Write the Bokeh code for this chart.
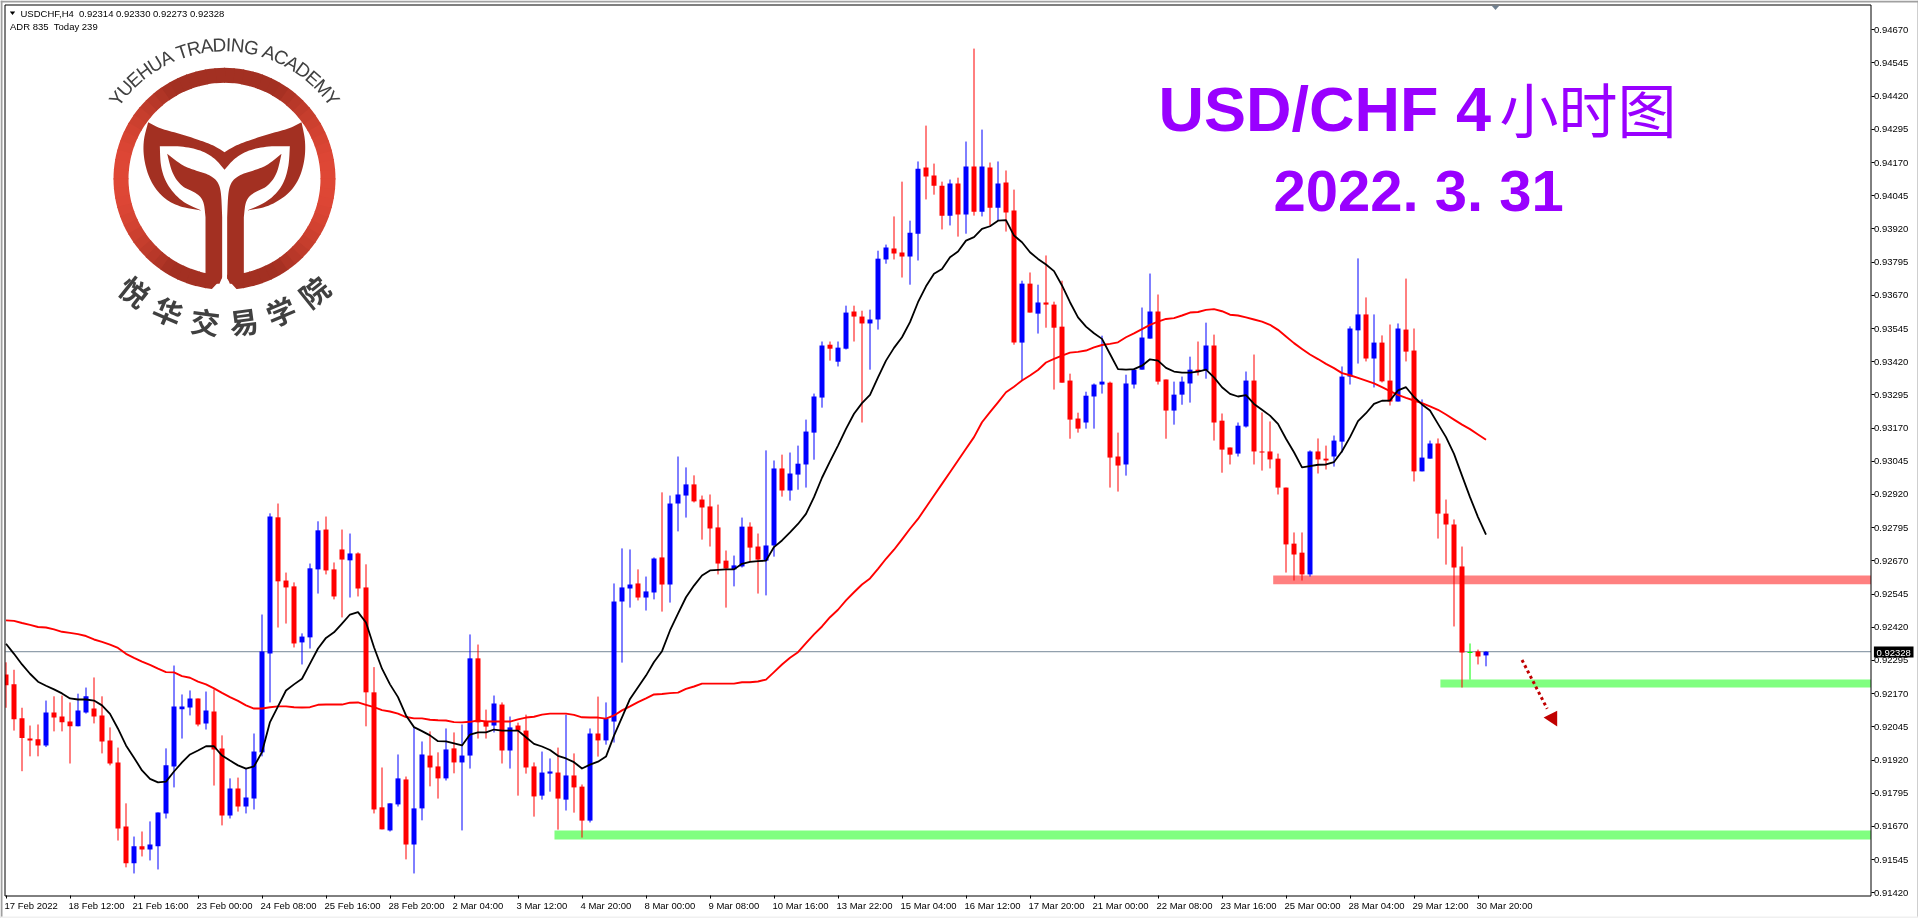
import math
import numpy as np
from bokeh.plotting import figure
from bokeh.embed import file_html
from bokeh.resources import INLINE
from bokeh.core.properties import value
from bokeh.models import Range1d, FixedTicker, Label, LinearAxis, NumeralTickFormatter, ColumnDataSource

# Prices in points (1 point = 0.00001)
opens = [
 92242,92205,92077,92001,91998,91975,92099,92084,92065,92047,
 92099,92114,92088,91994,91911,91670,91531,91595,91583,91595,
 91719,91896,92111,92118,92152,92058,92103,91964,91711,91813,
 91745,91775,91949,92321,92834,92596,92574,92363,92382,92638,
 92788,92638,92713,92672,92698,92570,92175,91742,91655,91753,
 91847,91602,91738,91937,91896,91851,91964,91911,91937,92303,
 92065,92050,92129,91956,92050,92031,91896,91786,91869,91873,
 91771,91862,91820,91692,92020,91994,92065,92517,92566,92585,
 92532,92551,92683,92581,92886,92916,92958,92901,92875,92796,
 92671,92638,92649,92799,92724,92671,92728,93018,92935,92995,
 93033,93153,93285,93484,93420,93469,93609,93590,93564,93579,
 93805,93846,93831,93816,93902,94151,94121,94083,93970,94091,
 93974,94155,93985,94151,94000,94095,93989,93492,93714,93601,
 93643,93635,93552,93349,93206,93191,93289,93334,93341,93063,
 93033,93334,93390,93507,93609,93353,93236,93296,93338,93390,
 93387,93481,93198,93097,93074,93176,93349,93082,93082,93055,
 92946,92735,92701,92619,93082,93055,93063,93119,93364,93538,
 93598,93432,93492,93349,93270,93541,93462,93007,93055,93112,
 92848,92807,92649,92325,92329,92314]
closes = [
 92202,92074,92003,91994,91975,92099,92080,92062,92047,92107,
 92160,92084,91990,91907,91662,91531,91595,91583,91602,91723,
 91900,92122,92122,92152,92054,92107,91960,91711,91813,91745,
 91779,91952,92329,92837,92593,92570,92359,92385,92642,92785,
 92634,92536,92675,92698,92566,92175,91734,91659,91757,91851,
 91602,91738,91941,91892,91851,91960,91911,91937,92303,92062,
 92046,92133,91956,92043,92031,91892,91783,91873,91877,91775,
 91862,91817,91692,92020,91994,92076,92517,92570,92581,92532,
 92555,92679,92581,92886,92920,92958,92894,92871,92792,92660,
 92641,92653,92799,92720,92675,92728,93018,92935,92999,93036,
 93157,93289,93481,93469,93473,93605,93590,93564,93579,93808,
 93850,93827,93816,93906,94147,94117,94083,93970,94091,93974,
 94155,93985,94155,94000,94091,93982,93492,93714,93605,93643,
 93635,93548,93341,93202,93168,93292,93334,93345,93059,93029,
 93338,93390,93511,93609,93345,93236,93296,93345,93390,93383,
 93481,93191,93089,93070,93179,93349,93082,93078,93052,92946,
 92732,92694,92619,93082,93052,93048,93123,93364,93545,93598,
 93432,93492,93346,93270,93545,93458,93007,93059,93112,92848,
 92807,92645,92325,92325,92310,92328]
highs = [
 92288,92260,92117,92050,92054,92144,92160,92163,92137,92170,
 92193,92231,92160,92043,91967,91757,91632,91651,91689,91723,
 91964,92276,92167,92182,92152,92178,92186,92013,91851,91854,
 91888,92020,92468,92849,92886,92626,92589,92397,92660,92819,
 92837,92664,92788,92773,92702,92657,92270,91892,91757,91941,
 91858,92043,91990,92028,91949,92039,92024,92054,92393,92355,
 92110,92163,92137,92084,92061,92091,91911,91952,91926,91967,
 92091,91945,91828,92039,92159,92137,92585,92717,92713,92638,
 92611,92683,92928,92916,93063,93022,92992,92916,92920,92882,
 92709,92690,92833,92815,92773,93086,93048,93070,93078,93104,
 93202,93300,93496,93496,93496,93631,93631,93612,93616,93838,
 93861,93967,94098,93951,94174,94309,94166,94098,94106,94113,
 94249,94599,94294,94170,94174,94140,94068,93725,93756,93710,
 93820,93646,93725,93375,93228,93307,93338,93518,93345,93153,
 93371,93394,93624,93752,93673,93353,93345,93364,93439,93496,
 93567,93522,93225,93097,93191,93383,93447,93229,93195,93074,
 92946,92777,92777,93086,93131,93104,93142,93402,93553,93809,
 93662,93598,93519,93560,93564,93733,93545,93278,93123,93131,
 92901,92826,92724,92359,92336,92330]
lows = [
 92117,92031,91878,91934,91934,91969,92028,92028,91907,92047,
 92095,92058,91945,91900,91617,91516,91493,91557,91542,91508,
 91700,91817,92001,92088,92047,92035,91824,91674,91700,91726,
 91719,91734,91934,92137,92419,92434,92344,92280,92340,92547,
 92619,92525,92457,92532,92536,92047,91719,91659,91651,91745,
 91546,91493,91693,91821,91775,91843,91870,91655,91888,92001,
 92001,92024,91907,91888,91786,91869,91707,91771,91801,91658,
 91730,91722,91628,91685,91933,91978,91986,92287,92494,92521,
 92483,92525,92479,92513,92781,92833,92890,92750,92724,92619,
 92494,92574,92645,92668,92547,92540,92686,92912,92897,92938,
 92946,93051,93247,93424,93402,93466,93496,93191,93390,93541,
 93789,93805,93737,93710,93801,94031,94049,93918,93933,93891,
 93902,93970,93967,93933,93951,93910,93484,93349,93605,93526,
 93548,93315,93341,93130,93153,93168,93168,93300,92946,92931,
 92991,93319,93390,93507,93334,93130,93183,93258,93266,93368,
 93356,93123,93002,93033,93063,93172,93033,93010,93018,92920,
 92626,92596,92596,92611,92999,93014,93025,93078,93334,93413,
 93421,93323,93342,93255,93270,93421,92969,93007,93055,92754,
 92656,92423,92193,92223,92280,92273]
ma_fast = [
 92358,92320,92280,92245,92215,92200,92186,92171,92152,92148,
 92148,92144,92126,92094,92038,91975,91929,91881,91849,91836,
 91839,91877,91911,91941,91956,91972,91972,91937,91918,91900,
 91888,91896,91950,92063,92122,92182,92205,92226,92283,92340,
 92380,92401,92434,92468,92477,92438,92345,92264,92205,92157,
 92088,92044,92029,92013,91991,91990,91983,91975,92016,92024,
 92024,92035,92031,92031,92031,92006,91981,91971,91958,91936,
 91926,91912,91888,91903,91914,91933,92012,92081,92150,92194,
 92238,92289,92330,92408,92471,92533,92577,92615,92634,92636,
 92638,92638,92659,92666,92669,92671,92722,92747,92777,92809,
 92847,92910,92983,93045,93104,93167,93224,93264,93295,93361,
 93424,93472,93512,93569,93644,93704,93751,93769,93813,93835,
 93876,93889,93920,93930,93951,93953,93895,93870,93832,93807,
 93786,93761,93707,93644,93587,93552,93527,93506,93449,93392,
 93390,93392,93405,93429,93424,93397,93383,93379,93379,93383,
 93390,93361,93324,93299,93289,93294,93261,93239,93217,93186,
 93130,93079,93022,93027,93032,93033,93042,93083,93136,93196,
 93226,93261,93273,93274,93312,93324,93287,93259,93236,93186,
 93136,93073,92991,92910,92835,92769]
ma_slow = [
 92446,92444,92436,92429,92421,92419,92412,92403,92399,92394,
 92387,92374,92365,92355,92342,92320,92305,92291,92278,92264,
 92251,92250,92236,92230,92215,92205,92190,92173,92157,92143,
 92126,92114,92114,92119,92122,92122,92119,92118,92119,92128,
 92129,92129,92129,92136,92137,92128,92119,92108,92103,92095,
 92082,92077,92077,92072,92070,92069,92063,92062,92064,92069,
 92065,92065,92065,92065,92073,92080,92083,92091,92095,92095,
 92095,92090,92081,92080,92080,92076,92088,92107,92122,92138,
 92152,92167,92169,92172,92174,92188,92197,92208,92208,92208,
 92208,92208,92213,92213,92216,92223,92251,92280,92305,92326,
 92360,92393,92423,92458,92486,92521,92552,92581,92604,92640,
 92678,92712,92751,92791,92828,92872,92916,92960,93004,93048,
 93092,93136,93192,93230,93267,93305,93326,93349,93368,93389,
 93417,93431,93443,93454,93457,93462,93474,93483,93487,93493,
 93512,93527,93543,93559,93571,93581,93584,93594,93605,93607,
 93615,93618,93610,93597,93594,93587,93579,93571,93559,93540,
 93515,93490,93468,93447,93430,93412,93396,93377,93369,93359,
 93349,93338,93324,93309,93295,93284,93274,93264,93252,93239,
 93221,93202,93183,93166,93146,93126]

time_labels = ["17 Feb 2022","18 Feb 12:00","21 Feb 16:00","23 Feb 00:00","24 Feb 08:00","25 Feb 16:00",
 "28 Feb 20:00","2 Mar 04:00","3 Mar 12:00","4 Mar 20:00","8 Mar 00:00","9 Mar 08:00","10 Mar 16:00",
 "13 Mar 22:00","15 Mar 04:00","16 Mar 12:00","17 Mar 20:00","21 Mar 00:00","22 Mar 08:00","23 Mar 16:00",
 "25 Mar 00:00","28 Mar 04:00","29 Mar 12:00","30 Mar 20:00"]
price_ticks = [0.94670,0.94545,0.94420,0.94295,0.94170,0.94045,0.93920,0.93795,0.93670,0.93545,0.93420,
 0.93295,0.93170,0.93045,0.92920,0.92795,0.92670,0.92545,0.92420,0.92295,0.92170,0.92045,0.91920,0.91795,
 0.91670,0.91545,0.91420]
last_price = 0.92328
# support / resistance zones: first bar index, upper price, lower price
zones = [(158.4, 92615, 92582, "#FF8080"), (179.3, 92223, 92193, "#80FF80"), (68.56, 91655, 91621, "#80FF80")]
title_latin = "USD/CHF 4"
title_cjk = "小时图"
title_2 = "2022. 3. 31"
header_1 = "USDCHF,H4\u00a0\u00a00.92314 0.92330 0.92273 0.92328"
header_2 = "ADR 835\u00a0\u00a0Today 239"
logo_en = "YUEHUA TRADING ACADEMY"
logo_cn = "悦华交易学院"

FONT = "Liberation Sans"
SMALL = "9.5px"
n = len(opens)
xs = np.arange(n)
O, C, H, L = [np.array(a) / 1e5 for a in (opens, closes, highs, lows)]
colors = ["#0000FF" if c > o else ("#00FF00" if c == o else "#FF0000") for o, c in zip(opens, closes)]

# the frame covers the whole canvas; the axes sit at fixed places inside it
X_LEFT, X_RIGHT = -0.0625, 233.125
AXIS_PRICE = 0.914082
p = figure(width=1918, height=918, output_backend="svg", toolbar_location=None,
           x_range=Range1d(-0.6875, 239.0625), y_range=Range1d(0.913234, 0.947801),
           x_axis_location=None, y_axis_location=None, min_border=0,
           background_fill_color="white", border_fill_color="white", outline_line_color=None)
p.styles = {"position": "fixed", "left": "0px", "top": "0px"}
p.extra_x_ranges["px"] = Range1d(0, 1918)
p.extra_y_ranges["py"] = Range1d(918, 0)
p.grid.visible = False
PX = dict(x_range_name="px", y_range_name="py")

ax = LinearAxis(fixed_location=AXIS_PRICE)
ax.ticker = FixedTicker(ticks=[i * 8 for i in range(len(time_labels))])
ax.major_label_overrides = {i * 8: "" for i in range(len(time_labels))}
ay = LinearAxis(fixed_location=X_RIGHT)
ay.ticker = FixedTicker(ticks=price_ticks)
ay.formatter = NumeralTickFormatter(format="0.00000")
ay.major_label_text_font = FONT
ay.major_label_text_font_size = SMALL
ay.major_label_text_color = "black"
ay.major_label_standoff = 0
for a in (ax, ay):
    a.axis_line_color = None
    a.major_tick_line_color = "black"
    a.major_tick_in = 0
    a.major_tick_out = 3
    a.minor_tick_line_color = None
p.add_layout(ax, "below")
p.add_layout(ay, "right")

p.segment(x0=[X_LEFT], x1=[X_RIGHT], y0=[last_price], y1=[last_price], line_color="#778899", line_width=1, level="underlay")

for start, up, low, col in zones:
    p.quad(left=start, right=X_RIGHT, top=up / 1e5, bottom=low / 1e5, fill_color=col, line_color=None)

src = ColumnDataSource(dict(x=xs, o=O, c=C, h=H, l=L, top=np.maximum(O, C), bottom=np.minimum(O, C), color=colors))
p.segment(x0="x", x1="x", y0="l", y1="h", line_color="color", line_width=1, source=src)
p.vbar(x="x", width=0.625, top="top", bottom="bottom", fill_color="color", line_color=None, source=src)
doji = [i for i in range(n) if opens[i] == closes[i]]
p.segment(x0=[i - 0.3125 for i in doji], x1=[i + 0.3125 for i in doji], y0=[O[i] for i in doji], y1=[O[i] for i in doji],
          line_color="#00FF00", line_width=1)

p.line(xs, np.array(ma_slow) / 1e5, line_color="#FF0000", line_width=1.9, line_join="round")
p.line(xs, np.array(ma_fast) / 1e5, line_color="#000000", line_width=1.8, line_join="round")

# forecast arrow
p.line([189.5, 192.65], [0.92297, 0.92113], line_color="#C00000", line_width=3, line_dash="3 3")
p.patch([192.2, 193.9, 193.9], [0.92080, 0.92106, 0.92046], fill_color="#C00000", line_color=None)

# window edges, chart frame
p.quad(left=[2], right=[4.5], top=[0], bottom=[918], fill_color="white", line_color=None, **PX)
p.quad(left=[4.5], right=[1870.5], top=[4.5], bottom=[895.5], fill_color=None, line_color="black", line_width=1, **PX)
p.quad(left=[0, 0, 1917, 0], right=[1918, 2, 1918, 1918], top=[0, 0, 0, 916], bottom=[2, 918, 918, 918],
       fill_color=["#A0A0A0", "#A0A0A0", "#A0A0A0", "#F0F0F0"], line_color=None, **PX)

# chart shift mark and collapse mark
p.patch([1491, 1499, 1495], [5, 5, 9.5], fill_color="#708090", line_color=None, **PX)
p.patch([9.3, 14.7, 12], [11, 11, 14.5], fill_color="black", line_color=None, **PX)

# time labels start at their tick
for i, t in enumerate(time_labels):
    p.add_layout(Label(x=i * 8, y=904.5, x_offset=-1.5, text=t, y_range_name="py", text_color="black", text_font=FONT,
                       text_font_size=SMALL, text_align="left", text_baseline="middle"))

# price tag
p.add_layout(Label(x=1873.4, y=651.5, text=f"\u00a0{last_price:.5f}\u00a0", text_color="white", text_font=FONT, text_font_size=SMALL,
                   text_align="left", text_baseline="middle", background_fill_color="black", background_fill_alpha=1, **PX))

# header
p.add_layout(Label(x=20, y=12.5, text=header_1, text_color="black", text_font=FONT, text_font_size=SMALL, text_baseline="middle", **PX))
p.add_layout(Label(x=9.5, y=25.5, text=header_2, text_color="black", text_font=FONT, text_font_size=SMALL, text_baseline="middle", **PX))

# titles
p.add_layout(Label(x=1158, y=108, text=title_latin, text_color="#9900FF", text_font=FONT, text_font_size="63px",
                   text_font_style="bold", text_baseline="middle", **PX))
p.add_layout(Label(x=1499, y=107, text=title_cjk, text_color="#9900FF", text_font="Noto Sans CJK SC", text_font_size="59px",
                   text_baseline="middle", **PX))
p.add_layout(Label(x=1273, y=190, text=title_2, text_color="#9900FF", text_font=FONT, text_font_size="58px",
                   text_font_style="bold", text_baseline="middle", **PX))

# logo ring
CX, CY = 224.0, 178.3
step = 5
for a in range(0, 360, step):
    mid = math.radians(a + step / 2)
    t = max(0.0, (abs(math.cos(mid)) - 0.5) / 0.5)
    col = "#%02X%02X%02X" % (int(0xA3 + t * (0xE0 - 0xA3)), int(0x30 + t * (0x48 - 0x30)), int(0x22 + t * (0x36 - 0x22)))
    p.annular_wedge(x=CX, y=CY, inner_radius=96, outer_radius=111, start_angle=math.radians(a - 0.3), end_angle=math.radians(a + step + 0.3),
                    fill_color=col, line_color=None, **PX)

def poly(pts, col, sharp=(), rounds=3):
    # corner-cutting smoothing, keeps the vertices listed as sharp
    pts = [(q[0] / 3, q[1] / 3, k in sharp) for k, q in enumerate(pts)]
    for _ in range(rounds):
        out = []
        for k, a in enumerate(pts):
            b = pts[(k + 1) % len(pts)]
            if a[2]:
                out.append(a)
            else:
                out.append((.75 * a[0] + .25 * b[0], .75 * a[1] + .25 * b[1], False))
            if not b[2]:
                out.append((.25 * a[0] + .75 * b[0], .25 * a[1] + .75 * b[1], False))
        pts = out
    p.patch([q[0] for q in pts], [q[1] for q in pts], fill_color=col, line_color=None, **PX)

SHADE = "#A33022"
poly([(663,600),(663,835),(630,870),(712,870),(680,835),(680,600)], "white", sharp=range(6))
band = [(443,365),(480,385),(540,400),(600,420),(640,435),(672,455),(705,435),(745,420),(805,400),(865,385),(903,365),
        (915,420),(913,480),(895,540),(860,585),(800,620),(740,630),(800,605),(845,560),(865,500),(868,437),(800,437),(740,450),
        (700,475),(672,508),(645,475),(605,450),(545,437),(478,437),(480,500),(500,555),(545,605),(603,630),(540,620),(490,595),
        (450,545),(430,480),(428,420)]
poly(band, SHADE, sharp=[0, 5, 10, 16, 20, 24, 28, 32])
poly([(843,460),(800,495),(760,510),(720,522),(695,540),(683,570),(680,650),(680,830),(688,850),(730,850),(730,650),(735,600),
      (760,575),(800,560),(830,520)], SHADE, sharp=[0, 6, 7, 8, 9, 10])
poly([(500,460),(545,495),(585,510),(625,522),(650,540),(662,570),(665,650),(665,830),(657,850),(615,850),(615,650),(610,600),
      (585,575),(545,560),(515,520)], SHADE, sharp=[0, 6, 7, 8, 9, 10])

widths = dict(Y=.667,U=.722,E=.667,H=.722,A=.667,T=.611,R=.722,D=.722,I=.278,N=.722,G=.778,C=.722,M=.833)
widths[" "] = .278
ws = [widths[ch] for ch in logo_en]
total = sum(ws) - ws[0] / 2 - ws[-1] / 2
pos = 0.0
ex, ey, ea = [], [], []
for k, ch in enumerate(logo_en):
    if k:
        pos += ws[k - 1] / 2 + ws[k] / 2
    th = math.radians(-53.2 + 106.4 * pos / total)
    ex.append(CX + 134 * math.sin(th))
    ey.append(CY - 134 * math.cos(th))
    ea.append(-th)
p.text(ex, ey, text=list(logo_en), angle=ea, text_font=value(FONT), text_font_size="19px", text_color="#404040",
       text_align="center", text_baseline="middle", **PX)

cx, cy, ca = [], [], []
for k in range(len(logo_cn)):
    th = math.radians(-38.5 + 77 * k / (len(logo_cn) - 1))
    cx.append(CX + 143 * math.sin(th))
    cy.append(CY + 143 * math.cos(th))
    ca.append(th)
p.text(cx, cy, text=list(logo_cn), angle=ca, text_font=value("Noto Sans CJK SC"), text_font_size="29px", text_font_style="bold",
       text_color="#404040", text_align="center", text_baseline="middle", **PX)

open("out.html", "w").write(file_html(p, INLINE))
